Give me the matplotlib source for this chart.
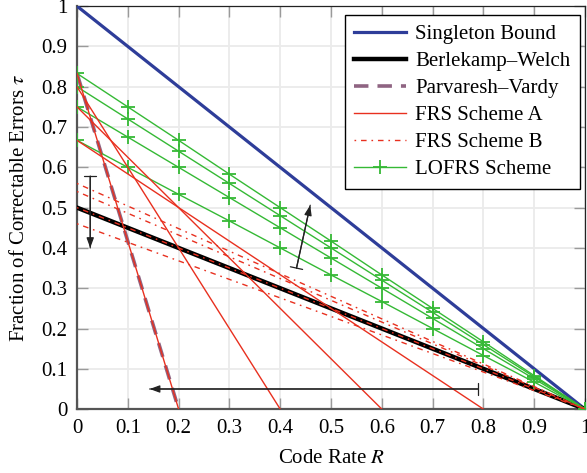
import matplotlib
matplotlib.use('Agg')
import matplotlib.pyplot as plt
from matplotlib.patches import ArrowStyle

plt.rcParams['font.family'] = ['Liberation Serif', 'DejaVu Serif']
plt.rcParams['mathtext.fontset'] = 'stix'

# rate axis points where the LOFRS markers sit
rate_pts = [0, 0.1, 0.2, 0.3, 0.4, 0.5, 0.6, 0.7, 0.8, 0.9, 1.0]

# straight reference curves (end points)
singleton_r = [0, 1]
singleton_t = [1, 0]
bw_r = [0, 1]
bw_t = [0.5, 0]
pv_r = [0, 0.2]
pv_t = [0.833, 0]

# FRS scheme A: start value at R=0 and rate where tau hits 0
frs_a_start = [0.833, 0.8, 0.75, 0.667]
frs_a_end = [0.2, 0.4, 0.6, 0.8]

# FRS scheme B: start value at R=0, all reach 0 at R=1
frs_b_start = [0.56, 0.54, 0.5, 0.46]

# LOFRS scheme values at rate_pts
lofrs = [
    [0.833, 0.75, 0.667, 0.583, 0.5, 0.417, 0.333, 0.25, 0.167, 0.083, 0],
    [0.8, 0.72, 0.64, 0.56, 0.48, 0.4, 0.32, 0.24, 0.16, 0.08, 0],
    [0.75, 0.675, 0.6, 0.525, 0.45, 0.375, 0.3, 0.225, 0.15, 0.075, 0],
    [0.667, 0.6, 0.533, 0.467, 0.4, 0.333, 0.267, 0.2, 0.133, 0.067, 0],
]

ticks = [0, 0.1, 0.2, 0.3, 0.4, 0.5, 0.6, 0.7, 0.8, 0.9, 1]
tick_labels = ['0', '0.1', '0.2', '0.3', '0.4', '0.5', '0.6', '0.7', '0.8', '0.9', '1']

blue = '#2e3d99'
red = '#e8301f'
green = '#35b935'
mauve = '#8f6482'

fig = plt.figure(figsize=(5.87, 4.73), dpi=100)
ax = fig.add_axes([0.1312, 0.135, 0.8655, 0.852])

ax.plot(singleton_r, singleton_t, color=blue, lw=2.3, label='Singleton Bound', zorder=3)
ax.plot(bw_r, bw_t, color='black', lw=3.2, label='Berlekamp–Welch', zorder=3)
ax.plot(pv_r, pv_t, color=mauve, lw=2.6, dashes=(4, 2.5), label='Parvaresh–Vardy', zorder=3)

for i, (t0, r1) in enumerate(zip(frs_a_start, frs_a_end)):
    ax.plot([0, r1], [t0, 0], color=red, lw=1.0, zorder=4,
            label='FRS Scheme A' if i == 0 else None)

for i, t0 in enumerate(frs_b_start):
    ax.plot([0, 1], [t0, 0], color=red, lw=1.0, dashes=(1.2, 3.5, 4, 3.5), zorder=4,
            label='FRS Scheme B' if i == 0 else None)

for i, vals in enumerate(lofrs):
    ax.plot(rate_pts, vals, color=green, lw=1.0, marker='+', ms=10, mew=1.3, zorder=3.5,
            label='LOFRS Scheme' if i == 0 else None)

# direction arrows
arrows = [((0.026, 0.578), (0.026, 0.40)),
          ((0.432, 0.35), (0.459, 0.506)),
          ((0.79, 0.05), (0.143, 0.05))]
for start, end in arrows:
    ax.annotate('', xy=end, xytext=start,
                arrowprops=dict(arrowstyle='-|>,head_length=0.6,head_width=0.22',
                                color='#222222', lw=0.9, shrinkA=0, shrinkB=0), zorder=6)
    ax.annotate('', xy=end, xytext=start,
                arrowprops=dict(arrowstyle=ArrowStyle('|-|', widthA=0.45, widthB=0.0),
                                color='#222222', lw=0.9, shrinkA=0, shrinkB=0), zorder=6)

ax.set_xlim(0, 1)
ax.set_ylim(0, 1)
ax.set_xticks(ticks)
ax.set_xticklabels(tick_labels)
ax.set_yticks(ticks)
ax.set_yticklabels(tick_labels)
ax.tick_params(direction='in', length=8, width=1, color='#9a9a9a', labelsize=15,
               top=True, right=True, pad=7)
ax.grid(True, color='#ebebeb', lw=1.3)
ax.set_axisbelow(True)

for side in ['left', 'bottom']:
    ax.spines[side].set_color('#555555')
    ax.spines[side].set_linewidth(1.6)
for side in ['top', 'right']:
    ax.spines[side].set_color('#222222')
    ax.spines[side].set_linewidth(0.9)

ax.set_xlabel('Code Rate $R$', fontsize=15, labelpad=8)
ax.set_ylabel(r'Fraction of Correctable Errors $\tau$', fontsize=15, labelpad=9)

leg = ax.legend(loc='upper right', bbox_to_anchor=(0.99, 0.978), borderaxespad=0,
                fontsize=15, frameon=True, fancybox=False, edgecolor='black',
                framealpha=1, handlelength=2.5, borderpad=0.45, labelspacing=0.36,
                handletextpad=0.45)
leg.get_frame().set_linewidth(1.0)
leg.set_zorder(10)

fig.savefig('out.png', dpi=100)
